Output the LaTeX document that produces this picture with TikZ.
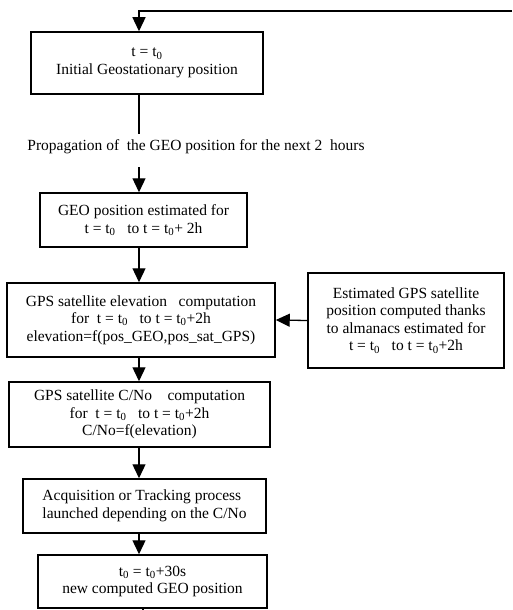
\documentclass[tikz,border=0pt]{standalone}
\usepackage{fontspec}
\setmainfont{Liberation Serif}
\usetikzlibrary{arrows.meta}
\newcommand{\tz}{t\textsubscript{0}}

\begin{document}
\begin{tikzpicture}[x=1pt,y=-1pt,
  box/.style={draw,line width=1.5pt,align=center,inner sep=0pt,
    font=\fontsize{15.5}{17.5}\selectfont},
  txt/.style={inner sep=0pt,font=\fontsize{15.5}{17.5}\selectfont},
  flow/.style={line width=1.3pt,-{Triangle[width=13pt,length=14pt]}}]
\useasboundingbox (0,0) rectangle (512,610);

\coordinate (spine) at (139,0);
\coordinate (loop) at (512,11);
\coordinate (exit) at (143,610);

\node[box,minimum width=232,minimum height=62] (init) at (147,63)
  {t = \tz\\Initial Geostationary position};
\node[txt] (prop) at (196,147)
  {Propagation of\ \ the GEO position for the next 2\ \ hours};
\node[box,minimum width=207,minimum height=54] (geo) at (143.5,220)
  {GEO position estimated for\\t = \tz\ \ \ to t = \tz+ 2h};
\node[box,minimum width=268,minimum height=74] (elev) at (141,320)
  {GPS satellite elevation\ \ \ computation\\for\ \ t = \tz\ \ \ to t = \tz+2h\\elevation=f(pos\_GEO,pos\_sat\_GPS)};
\node[box,minimum width=196,minimum height=95] (alm) at (406,320.5)
  {Estimated GPS satellite\\position computed thanks\\to almanacs estimated for\\t = \tz\ \ \ to t = \tz+2h};
\node[box,minimum width=261,minimum height=65] (cno) at (139.5,414.5)
  {GPS satellite C/No\ \ \ \ computation\\for\ \ t = \tz\ \ \ to t = \tz+2h\\C/No=f(elevation)};
\node[box,minimum width=243,minimum height=54,align=left] (acq) at (144.5,506)
  {Acquisition or Tracking process\\launched depending on the C/No};
\node[box,minimum width=229,minimum height=53] (next) at (152.5,581.5)
  {\tz\ = \tz+30s\\new computed GEO position};

\draw[flow] (loop) -- (loop -| spine) -- (init.north -| spine);
\draw[line width=1.3pt] (init.south -| spine) -- ([yshift=6]prop.north -| spine);
\draw[flow] ([yshift=-13]prop.south -| spine) -- (geo.north -| spine);
\draw[flow] (geo.south -| spine) -- (elev.north -| spine);
\draw[flow] (alm.west) -- (elev.east);
\draw[flow] (elev.south -| spine) -- (cno.north -| spine);
\draw[flow] (cno.south -| spine) -- (acq.north -| spine);
\draw[flow] (acq.south -| spine) -- (next.north -| spine);
\draw[line width=1.3pt] (next.south -| exit) -- (exit);
\end{tikzpicture}
\end{document}
